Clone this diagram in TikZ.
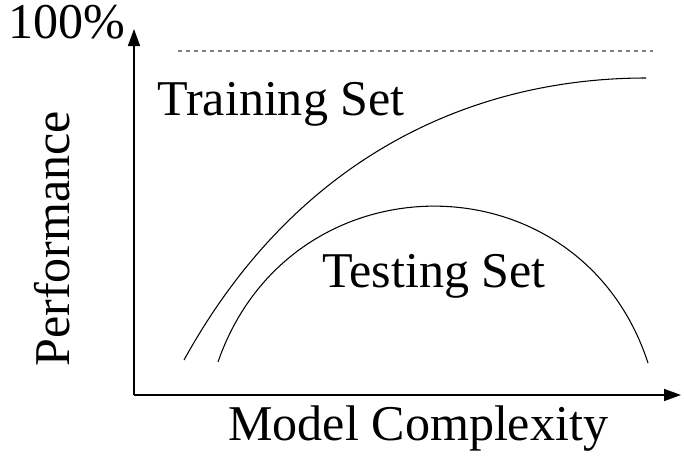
\documentclass[tikz,border=0pt]{standalone}
\usepackage{fontspec}
\setmainfont{Liberation Serif}
\usepackage{tikz}
\usetikzlibrary{arrows.meta,positioning,calc}

\begin{document}
\begin{tikzpicture}[
    x=0.02cm, y=-0.02cm,
    axis/.style={-{Triangle[length=0.34cm, width=0.24cm]}, line width=0.9pt},
    curve/.style={line width=0.6pt},
    lbl/.style={inner sep=0pt, anchor=base west, font=\fontsize{28.5}{34}\selectfont},
    limit/.style={gray, line width=0.7pt, dash pattern=on 0.08cm off 0.08cm}
]
\useasboundingbox (0,0) rectangle (684,464);

% Axes
\coordinate (origin) at (134,395);
\coordinate (ytop) at (134,29);
\coordinate (xend) at (681,395);
\draw[axis] (origin) -- (ytop);
\draw[axis] (origin) -- (xend);

% 100% level
\coordinate (lim1) at (178,51);
\coordinate (lim2) at (653,51);
\draw[limit] (lim1) -- (lim2);

% Curves
\coordinate (tr1) at (184,360);
\coordinate (tr2) at (646,78);
\coordinate (te1) at (218,362);
\coordinate (te2) at (648,363);
\draw[curve] (tr1) .. controls (300,150) and (480,78) .. (tr2);
\draw[curve] (te1) .. controls (290,154) and (580,154) .. (te2);

% Labels
\node[lbl] (top) at (8,38) {100\%};
\node[lbl] (train) at (157,115) {Training Set};
\node[lbl] (test) at (322,287) {Testing Set};
\node[lbl] (xlab) at (228,440) {Model Complexity};
\node[lbl, rotate=90] (ylab) at (70,367) {Performance};

\end{tikzpicture}
\end{document}
